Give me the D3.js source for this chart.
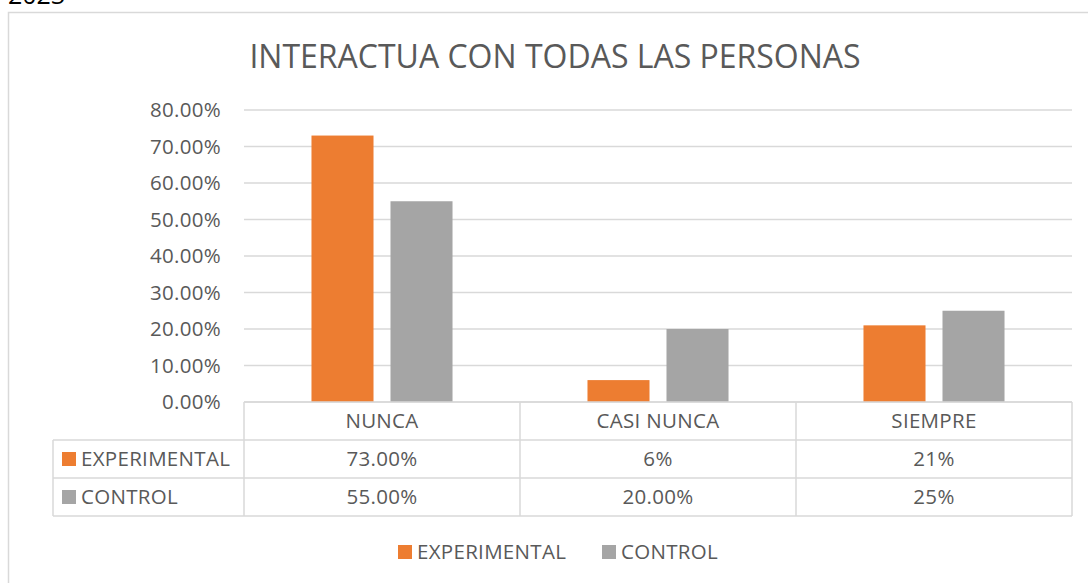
<!DOCTYPE html>
<html><head><meta charset="utf-8">
<script src="https://cdn.jsdelivr.net/npm/d3@7"></script>
<style>body{margin:0;background:#fff;}svg{display:block;font-family:"Open Sans",sans-serif;}</style>
</head><body>
<script>
const categories = ["NUNCA", "CASI NUNCA", "SIEMPRE"];
const seriesNames = ["EXPERIMENTAL", "CONTROL"];
const experimental = [0.73, 0.06, 0.21];
const control = [0.55, 0.20, 0.25];
const tableExperimental = ["73.00%", "6%", "21%"];
const tableControl = ["55.00%", "20.00%", "25%"];
const yTicks = [0, 0.1, 0.2, 0.3, 0.4, 0.5, 0.6, 0.7, 0.8];
const title = "INTERACTUA CON TODAS LAS PERSONAS";

const W = 1088, H = 583;
const colors = ["#ED7D31", "#A5A5A5"];
const textColor = "#595959", lineColor = "#D9D9D9";
const fs = 20.5, ls = 0.3;
const svg = d3.select("body").append("svg").attr("width", W).attr("height", H);

// cut-off text above chart
svg.append("text").attr("x", 8).attr("y", 4).attr("font-size", 25).attr("fill", "#000").text("2023");

// chart frame
svg.append("rect").attr("x", 8.5).attr("y", 12.5).attr("width", 1200).attr("height", 700)
  .attr("fill", "none").attr("stroke", lineColor).attr("stroke-width", 1.5);

svg.append("text").attr("x", 555).attr("y", 68).attr("text-anchor", "middle")
  .attr("font-size", 32).attr("fill", textColor).text(title);

const plotL = 244, plotR = 1072, plotT = 110, plotB = 402;
const x = d3.scaleBand().domain(categories).range([plotL, plotR]);
const y = d3.scaleLinear().domain([0, 0.8]).range([plotB, plotT]);
const inner = d3.scaleBand().domain(seriesNames).range([0, x.bandwidth()]).paddingInner(0.215).paddingOuter(0.854);

// gridlines
svg.append("g").selectAll("line").data(yTicks).join("line")
  .attr("x1", plotL).attr("x2", plotR).attr("y1", d => y(d)).attr("y2", d => y(d))
  .attr("stroke", lineColor).attr("stroke-width", 1.3);

// y axis labels
const yAxis = d3.axisLeft(y).tickValues(yTicks).tickFormat(d3.format(".2%")).tickSize(0).tickPadding(0);
const yg = svg.append("g").attr("transform", `translate(${221},0)`).call(yAxis);
yg.select(".domain").remove();
yg.selectAll("text").attr("font-size", fs).attr("letter-spacing", ls).attr("fill", textColor).attr("font-family", "Open Sans, sans-serif").attr("dy", "0.34em");

// bars
const seriesData = [experimental, control];
seriesNames.forEach((s, si) => {
  svg.append("g").selectAll("rect").data(categories).join("rect")
    .attr("x", c => x(c) + inner(s))
    .attr("width", inner.bandwidth())
    .attr("y", (c, i) => y(seriesData[si][i]))
    .attr("height", (c, i) => y(0) - y(seriesData[si][i]))
    .attr("fill", colors[si]);
});

// data table
const rowH = 38, legL = 53;
const rows = [plotB, plotB + rowH, plotB + 2 * rowH, plotB + 3 * rowH];
const tg = svg.append("g").attr("stroke", lineColor).attr("stroke-width", 1.5).attr("fill", "none");
tg.append("line").attr("x1", plotL).attr("x2", plotR).attr("y1", rows[0]).attr("y2", rows[0]);
[1, 2, 3].forEach(r => tg.append("line").attr("x1", legL).attr("x2", plotR).attr("y1", rows[r]).attr("y2", rows[r]));
categories.forEach(c => tg.append("line").attr("x1", x(c)).attr("x2", x(c)).attr("y1", rows[0]).attr("y2", rows[3]));
tg.append("line").attr("x1", plotR).attr("x2", plotR).attr("y1", rows[0]).attr("y2", rows[3]);
tg.append("line").attr("x1", legL).attr("x2", legL).attr("y1", rows[1]).attr("y2", rows[3]);

const tt = svg.append("g").attr("font-size", fs).attr("letter-spacing", ls).attr("fill", textColor).attr("text-anchor", "middle");
categories.forEach((c, i) => {
  const cx = x(c) + x.bandwidth() / 2;
  tt.append("text").attr("x", cx).attr("y", rows[0] + rowH / 2).attr("dy", "0.35em").text(c);
  tt.append("text").attr("x", cx).attr("y", rows[1] + rowH / 2).attr("dy", "0.35em").text(tableExperimental[i]);
  tt.append("text").attr("x", cx).attr("y", rows[2] + rowH / 2).attr("dy", "0.35em").text(tableControl[i]);
});
seriesNames.forEach((s, si) => {
  const cy = rows[1 + si] + rowH / 2;
  svg.append("rect").attr("x", 62).attr("y", cy - 7).attr("width", 14).attr("height", 14).attr("fill", colors[si]);
  svg.append("text").attr("x", 81).attr("y", cy).attr("dy", "0.35em").attr("font-size", fs).attr("letter-spacing", ls).attr("fill", textColor).text(s);
});

// bottom legend
const legX = [398, 602];
seriesNames.forEach((s, si) => {
  svg.append("rect").attr("x", legX[si]).attr("y", 545).attr("width", 14).attr("height", 14).attr("fill", colors[si]);
  svg.append("text").attr("x", legX[si] + 19).attr("y", 552).attr("dy", "0.35em").attr("font-size", fs).attr("letter-spacing", ls).attr("fill", textColor).text(s);
});
</script>
</body></html>
